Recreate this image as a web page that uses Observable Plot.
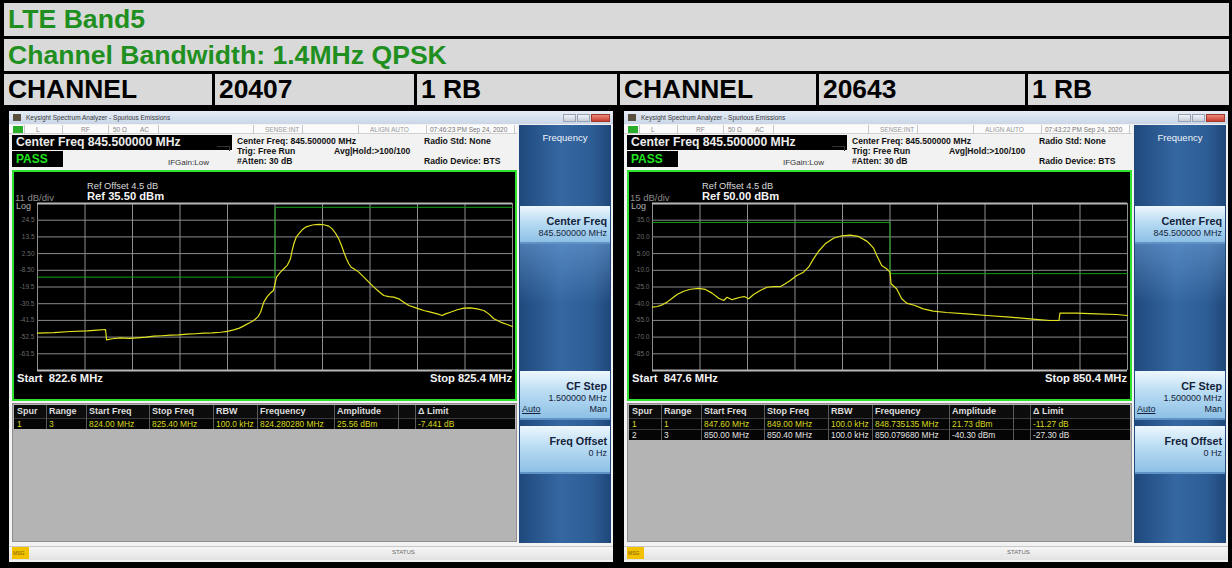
<!DOCTYPE html>
<html><head><meta charset="utf-8">
<script src="https://cdn.jsdelivr.net/npm/d3@7"></script>
<script src="https://cdn.jsdelivr.net/npm/@observablehq/plot@0.6"></script>
<style>
body{margin:0;background:#000;width:1232px;height:568px;overflow:hidden;font-family:Arial,"Liberation Sans",sans-serif;}
#root{position:relative;width:1232px;height:568px;background:#000;overflow:hidden;}
.abs{position:absolute;box-sizing:border-box;white-space:pre;}
</style></head>
<body><div id="root"></div>
<script>
// ---------- data ----------
const titleText = "LTE Band5";
const subtitleText = "Channel Bandwidth: 1.4MHz QPSK";
const channelLabel = "CHANNEL";
const channels = ["20407", "20643"];
const rbLabels = ["1 RB", "1 RB"];
const windowTitle = "Keysight Spectrum Analyzer - Spurious Emissions";
const timestamps = ["07:46:23 PM Sep 24, 2020", "07:43:22 PM Sep 24, 2020"];
const centerFreqText = "845.500000 MHz";
const startFreqs = [822.6, 847.6];
const stopFreqs = [825.4, 850.4];
const refLevels = [35.5, 50];
const refTexts = ["Ref 35.50 dBm", "Ref 50.00 dBm"];
const divTexts = ["11 dB/div", "15 dB/div"];
const dbPerDiv = [11, 15];
const yTickLabelsLeft = ["24.5", "13.5", "2.50", "-8.50", "-19.5", "-30.5", "-41.5", "-52.5", "-63.5"];
const yTickLabelsRight = ["35.0", "20.0", "5.00", "-10.0", "-25.0", "-40.0", "-55.0", "-70.0", "-85.0"];

const traceFreqLeft = [822.600, 822.696, 822.795, 822.893, 822.952, 823.001, 823.007, 823.040, 823.089, 823.140, 823.188, 823.240, 823.286, 823.335, 823.384, 823.430, 823.482, 823.530, 823.580, 823.630, 823.679, 823.720, 823.757, 823.790, 823.816, 823.850, 823.875, 823.900, 823.915, 823.934, 823.954, 823.973, 823.991, 824.009, 824.032, 824.052, 824.072, 824.091, 824.101, 824.111, 824.125, 824.140, 824.160, 824.180, 824.209, 824.229, 824.258, 824.288, 824.317, 824.337, 824.357, 824.376, 824.392, 824.406, 824.421, 824.435, 824.449, 824.465, 824.494, 824.524, 824.553, 824.583, 824.612, 824.641, 824.671, 824.700, 824.730, 824.759, 824.789, 824.818, 824.848, 824.877, 824.917, 824.956, 824.986, 825.005, 825.034, 825.074, 825.113, 825.152, 825.192, 825.231, 825.260, 825.290, 825.329, 825.369, 825.400];
const traceLevelLeft = [-49.9, -49.5, -48.8, -48.4, -47.9, -47.5, -54.3, -53.6, -53.0, -53.4, -53.0, -52.5, -51.9, -51.6, -51.2, -51.0, -50.6, -50.3, -49.9, -49.7, -49.3, -48.7, -47.7, -46.6, -45.1, -43.0, -41.6, -39.0, -36.1, -29.5, -25.8, -23.5, -21.8, -13.0, -9.7, -7.5, -5.3, -0.9, 4.5, 9.0, 13.3, 15.5, 18.2, 19.9, 21.0, 21.5, 21.7, 21.5, 20.6, 18.8, 15.9, 12.2, 7.8, 3.4, -0.9, -4.2, -6.5, -7.5, -9.7, -13.0, -16.3, -19.6, -22.5, -25.1, -25.8, -26.2, -27.3, -29.5, -31.7, -32.8, -33.9, -35.0, -36.1, -37.2, -38.3, -37.2, -36.1, -34.5, -33.4, -33.2, -33.9, -35.0, -37.2, -40.4, -42.6, -44.2, -45.5];
const limitFreqLeft = [822.6, 824.0, 824.0, 825.4];
const limitLevelLeft = [-13, -13, 33, 33];

const traceFreqRight = [847.600, 847.628, 847.657, 847.686, 847.716, 847.745, 847.784, 847.824, 847.873, 847.912, 847.951, 847.990, 848.020, 848.039, 848.069, 848.088, 848.118, 848.141, 848.167, 848.196, 848.235, 848.275, 848.314, 848.353, 848.382, 848.412, 848.451, 848.490, 848.520, 848.549, 848.578, 848.618, 848.667, 848.716, 848.765, 848.814, 848.863, 848.880, 848.902, 848.922, 848.951, 848.980, 849.000, 849.006, 849.039, 849.069, 849.098, 849.147, 849.196, 849.255, 849.334, 849.451, 849.569, 849.706, 849.843, 849.941, 849.996, 850.002, 850.098, 850.216, 850.334, 850.400];
const traceLevelRight = [-43.1, -42.5, -41.0, -38.6, -35.1, -31.7, -28.8, -27.0, -26.3, -27.2, -30.5, -35.1, -37.1, -34.2, -36.5, -35.5, -34.2, -33.6, -35.5, -31.7, -28.1, -25.2, -24.7, -24.7, -22.1, -19.2, -14.7, -11.7, -7.2, 0.3, 6.9, 13.8, 18.8, 21.0, 21.6, 20.4, 16.2, 13.8, 10.2, 3.3, -5.7, -8.6, -11.7, -22.1, -26.6, -35.6, -39.5, -41.6, -44.6, -46.7, -47.9, -49.1, -50.6, -52.1, -53.9, -55.1, -55.1, -48.5, -48.5, -49.1, -49.7, -50.6];
const limitFreqRight = [847.6, 849.0, 849.0, 850.4];
const limitLevelRight = [33, 33, -13, -13];

const spurHeaders = ["Spur", "Range", "Start Freq", "Stop Freq", "RBW", "Frequency", "Amplitude", "", "\u0394 Limit"];
const spurRowsLeft = [["1", "3", "824.00 MHz", "825.40 MHz", "100.0 kHz", "824.280280 MHz", "25.56 dBm", "", "-7.441 dB"]];
const spurRowsRight = [
  ["1", "1", "847.60 MHz", "849.00 MHz", "100.0 kHz", "848.735135 MHz", "21.73 dBm", "", "-11.27 dB"],
  ["2", "3", "850.00 MHz", "850.40 MHz", "100.0 kHz", "850.079680 MHz", "-40.30 dBm", "", "-27.30 dB"]
];

// ---------- helpers ----------
const root = document.getElementById("root");
function box(x, y, w, h, style = {}, parent = root) {
  const d = document.createElement("div");
  d.className = "abs";
  Object.assign(d.style, {left: x + "px", top: y + "px", width: w + "px", height: h + "px"}, style);
  parent.appendChild(d);
  return d;
}
function txt(x, cy, text, size, style = {}, align = "left") {
  const d = document.createElement("div");
  d.className = "abs";
  Object.assign(d.style, {left: x + "px", top: (cy - size * 0.6) + "px", fontSize: size + "px", lineHeight: (size * 1.2) + "px"}, style);
  if (align === "right") d.style.transform = "translateX(-100%)";
  if (align === "center") d.style.transform = "translateX(-50%)";
  d.textContent = text;
  root.appendChild(d);
  return d;
}

// ---------- header rows ----------
const gray = "#d9d9d9", green = "#1f8f1f";
box(4, 3, 1225, 33, {background: gray});
txt(8, 20, titleText, 26.6, {fontWeight: "bold", color: green});
box(4, 39, 1225, 32, {background: gray});
txt(8, 56, subtitleText, 26.6, {fontWeight: "bold", color: green});
const cells = [[4, 212], [215, 414], [417, 617], [620, 816], [819, 1025], [1028, 1229]];
const cellTexts = [channelLabel, channels[0], rbLabels[0], channelLabel, channels[1], rbLabels[1]];
cells.forEach(([a, b], i) => {
  box(a, 74, b - a, 31, {background: gray});
  txt(a + 4, 90, cellTexts[i], 26.4, {fontWeight: "bold", color: "#000"});
});

// ---------- analyzer panels ----------
function spectrum(start, stop, ref, div, labels, tf, tl, lf, ll) {
  const step = (stop - start) / 10;
  const xGrid = d3.range(11).map(i => start + i * step);
  const yGrid = d3.range(11).map(i => ref - i * div);
  const labVals = labels.map((s, i) => ref - (i + 1) * div);
  const trace = tf.map((f, i) => ({f, v: tl[i]}));
  const lim = lf.map((f, i) => ({f, v: ll[i]}));
  return Plot.plot({
    width: 501, height: 227,
    marginLeft: 23, marginRight: 3, marginTop: 31, marginBottom: 29,
    x: {domain: [start, stop]},
    y: {domain: [ref - 10 * div, ref]},
    style: {background: "#000", color: "#6a6a6a", fontFamily: "Arial, 'Liberation Sans', sans-serif", overflow: "visible"},
    marks: [
      Plot.ruleX(xGrid, {stroke: "#8e8e8e", strokeWidth: 1}),
      Plot.ruleY(yGrid, {stroke: "#8a8a8a", strokeWidth: 1}),
      Plot.ruleY([ref, ref - 10 * div], {stroke: "#b8b8b8", strokeWidth: 2}),
      Plot.axisY(labVals, {tickSize: 0, tickPadding: 3, fontSize: 6.5, label: null,
        tickFormat: v => labels[labVals.findIndex(t => Math.abs(t - v) < 1e-6)]}),
      Plot.axisX({ticks: [], label: null}),
      Plot.line(lim, {x: "f", y: "v", stroke: "#14a014", strokeWidth: 1}),
      Plot.line(trace, {x: "f", y: "v", stroke: "#e2e21e", strokeWidth: 1.2})
    ]
  });
}

function panel(k) {
  const ox = k * 615;
  // window body
  box(ox + 9, 111, 604, 451, {background: "#f2f2f2"});
  // title bar
  box(ox + 9, 111, 604, 13, {background: "linear-gradient(#e6edf6,#c9d6e7)"});
  box(ox + 13, 114, 8, 7, {background: "#5a5040"});
  txt(ox + 26, 117.5, windowTitle, 6.5, {color: "#3a3a3a"});
  box(ox + 563, 114, 13, 8, {background: "linear-gradient(#f0f3f8,#c7cfdb)", border: "1px solid #98a2b3"});
  box(ox + 577, 114, 13, 8, {background: "linear-gradient(#f0f3f8,#c7cfdb)", border: "1px solid #98a2b3"});
  box(ox + 591, 114, 19, 8, {background: "linear-gradient(#e88a7c,#c8402e)", border: "1px solid #a0382a"});
  // status row
  box(ox + 9, 125, 508, 9, {background: "#fbfbfb", borderBottom: "1px solid #d0d0d0"});
  box(ox + 13, 126, 10, 7, {background: "#2aae2a"});
  [24, 62, 108, 158, 253, 302, 358, 426, 514].forEach(x => box(ox + x, 125, 1, 9, {background: "#c8c8c8"}));
  txt(ox + 36, 129.5, "L", 6.5, {color: "#888"});
  txt(ox + 81, 129.5, "RF", 6.5, {color: "#888"});
  txt(ox + 113, 129.5, "50 \u03a9", 6.5, {color: "#888"});
  txt(ox + 140, 129.5, "AC", 6.5, {color: "#888"});
  txt(ox + 265, 129.5, "SENSE:INT", 6.5, {color: "#999"});
  txt(ox + 370, 129.5, "ALIGN AUTO", 6.5, {color: "#999"});
  txt(ox + 430, 129.5, timestamps[k], 6.5, {color: "#777"});
  // center freq bar + PASS
  box(ox + 12, 135, 220, 15, {background: "#000"});
  txt(ox + 16, 142.5, "Center Freq " + centerFreqText, 12.2, {color: "#ececec", fontWeight: "bold"});
  box(ox + 12, 151, 51, 16, {background: "#000"});
  txt(ox + 16, 159, "PASS", 12, {color: "#1fe41f", fontWeight: "bold"});
  txt(ox + 168, 163, "IFGain:Low", 8, {color: "#333"});
  box(ox + 217, 146, 13, 5, {borderTop: "1px solid #333", borderRight: "1px solid #333"});
  txt(ox + 237, 141.5, "Center Freq: " + centerFreqText, 8.6, {color: "#111", fontWeight: "bold"});
  txt(ox + 237, 151.5, "Trig: Free Run", 8.6, {color: "#111", fontWeight: "bold"});
  txt(ox + 237, 161.5, "#Atten: 30 dB", 8.6, {color: "#111", fontWeight: "bold"});
  txt(ox + 334, 151, "Avg|Hold:>100/100", 8.6, {color: "#111", fontWeight: "bold"});
  txt(ox + 424, 141.5, "Radio Std: None", 8.6, {color: "#111", fontWeight: "bold"});
  txt(ox + 424, 161.5, "Radio Device: BTS", 8.6, {color: "#111", fontWeight: "bold"});
  // graph
  box(ox + 12, 170, 505, 231, {background: "#000", border: "2px solid #2ee22e"});
  const holder = box(ox + 14, 172, 501, 227, {});
  const labels = k === 0 ? yTickLabelsLeft : yTickLabelsRight;
  const chart = k === 0
    ? spectrum(startFreqs[0], stopFreqs[0], refLevels[0], dbPerDiv[0], labels, traceFreqLeft, traceLevelLeft, limitFreqLeft, limitLevelLeft)
    : spectrum(startFreqs[1], stopFreqs[1], refLevels[1], dbPerDiv[1], labels, traceFreqRight, traceLevelRight, limitFreqRight, limitLevelRight);
  holder.appendChild(chart);
  txt(ox + 87, 186.5, "Ref Offset 4.5 dB", 9.3, {color: "#dcdcdc"});
  txt(ox + 87, 197, refTexts[k], 11.2, {color: "#f4f4f4", fontWeight: "bold"});
  txt(ox + 15, 198, divTexts[k], 9.5, {color: "#8a8a8a"});
  txt(ox + 16, 206.5, "Log", 9, {color: "#b0b0b0"});
  txt(ox + 17, 379, "Start  " + startFreqs[k].toFixed(1) + " MHz", 11.2, {color: "#f2f2f2", fontWeight: "bold"});
  txt(ox + 512, 379, "Stop " + stopFreqs[k].toFixed(1) + " MHz", 11.2, {color: "#f2f2f2", fontWeight: "bold"}, "right");
  // spur table
  box(ox + 12, 403, 505, 139, {background: "#b4b4b4", border: "1px solid #8f8f8f"});
  const cols = [14, 46, 86, 149, 213, 257, 334, 398, 415, 515];
  const rows = k === 0 ? spurRowsLeft : spurRowsRight;
  box(ox + 14, 405, 501, 13, {background: "#0c0c0c"});
  rows.forEach((r, j) => box(ox + 14, 418 + j * 11, 501, 11, {background: "#050505", borderTop: "1px solid #3a3a3a"}));
  const tableH = 13 + rows.length * 11;
  cols.slice(1, -1).forEach(c => box(ox + c, 405, 1, tableH, {background: "#5a5a5a"}));
  spurHeaders.forEach((h, i) => { if (h) txt(ox + cols[i] + 3, 411.5, h, 9, {color: "#dcdcdc", fontWeight: "bold"}); });
  rows.forEach((r, j) => r.forEach((v, i) => {
    if (v) txt(ox + cols[i] + 3, 424 + j * 11, v, 8.4, {color: j === 0 ? "#d8d81e" : "#e2e2e2"});
  }));
  // softkeys
  box(ox + 519, 125, 92, 418, {background: "linear-gradient(90deg,#1f497c,#3567a2 45%,#2d5d95 80%,#1f4678)"});
  box(ox + 520, 244, 90, 60, {background: "linear-gradient(rgba(110,160,215,0.55),rgba(110,160,215,0))"});
  txt(ox + 565, 138, "Frequency", 9.5, {color: "#f0f4fa"}, "center");
  const keys = [
    {y: 206, h: 38, t: "Center Freq", s: "845.500000 MHz"},
    {y: 371, h: 49, t: "CF Step", s: "1.500000 MHz"},
    {y: 426, h: 48, t: "Freq Offset", s: "0 Hz"}
  ];
  keys.forEach(kk => {
    box(ox + 520, kk.y, 90, kk.h, {background: "linear-gradient(#eef7fd,#b9dcf3 45%,#8ec0e6)", borderBottom: "2px solid #5f93c6"});
    txt(ox + 607, kk.y + 15, kk.t, 10.8, {color: "#14233b", fontWeight: "bold"}, "right");
    txt(ox + 607, kk.y + 27, kk.s, 9, {color: "#14233b"}, "right");
  });
  txt(ox + 522, 409, "Auto", 9, {color: "#14233b", textDecoration: "underline"});
  txt(ox + 607, 409, "Man", 9, {color: "#14233b"}, "right");
  // bottom status bar
  box(ox + 9, 546, 604, 14, {background: "linear-gradient(#f6f6f6,#e2e2e2)", borderTop: "1px solid #c8c8c8"});
  box(ox + 12, 547, 17, 12, {background: "#f2c200"});
  txt(ox + 13, 553, "MSG", 5, {color: "#7a5a00"});
  txt(ox + 392, 553, "STATUS", 6, {color: "#666"});
}
panel(0);
panel(1);
</script>
</body></html>
